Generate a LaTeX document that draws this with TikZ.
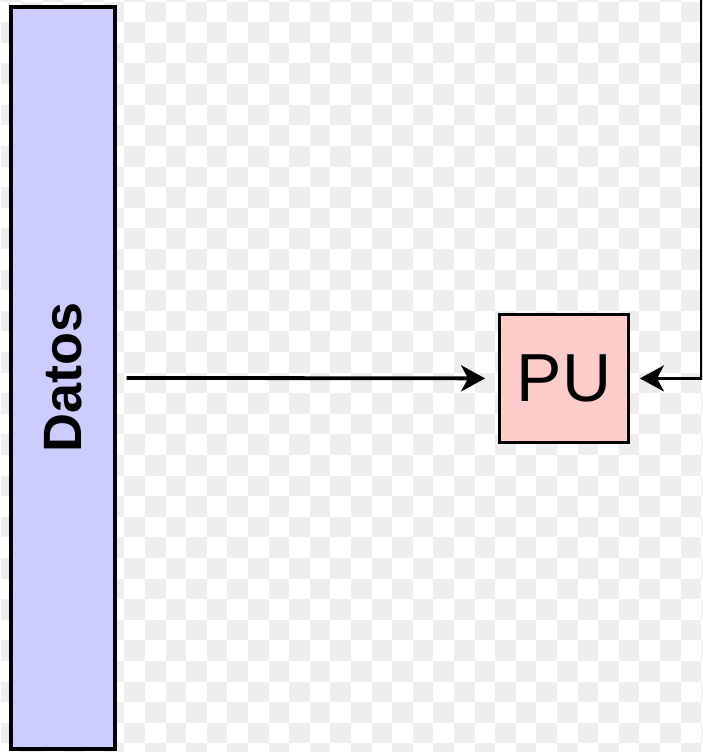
\documentclass[tikz,border=0pt]{standalone}
\usepackage{fontspec}
\setmainfont{Liberation Sans}
\usetikzlibrary{arrows.meta}
\definecolor{checkgray}{HTML}{EEEEEE}
\definecolor{datosblue}{HTML}{CCCCFF}
\definecolor{pupink}{HTML}{FFCCCC}
\tikzset{
  databar/.style={draw=black, line width=4pt, fill=datosblue, inner sep=0pt,
    minimum width=103.4pt, minimum height=741.7pt},
  pubox/.style={draw=black, line width=3pt, fill=pupink, inner sep=0pt,
    minimum width=128.8pt, minimum height=128pt, font=\fontsize{68}{68}\selectfont},
  conn/.style={draw=black, line width=3.8pt,
    -{Stealth[length=24pt, width=26pt, inset=7pt]}}
}
\begin{document}
\begin{tikzpicture}[x=1pt, y=-1pt]
\useasboundingbox (0,0) rectangle (702,752);
\clip (0,0) rectangle (702,752);
\fill[white] (0,0) rectangle (702,752);
\foreach \i in {0,...,34} {
  \foreach \j in {-1,...,36} {
    \pgfmathtruncatemacro\cellparity{mod(\i+\j+100,2)}
    \ifnum\cellparity=1
      \fill[checkgray] ({0.7+20.6*\i},{1.7+20.6*\j}) rectangle ++(20.6,20.6);
    \fi
  }
}
\node[databar] (datos) at (63,377.9)
  {\rotatebox{90}{\fontsize{54}{54}\selectfont\bfseries Datos}};
\node[pubox] (pu) at (564,378.4) {PU};
\coordinate (topright) at (701.5,-10);
\draw[conn, shorten <=10pt, shorten >=13pt] (datos.east) -- (pu.west);
\draw[conn, shorten >=10pt] (topright) |- (pu.east);
\end{tikzpicture}
\end{document}
